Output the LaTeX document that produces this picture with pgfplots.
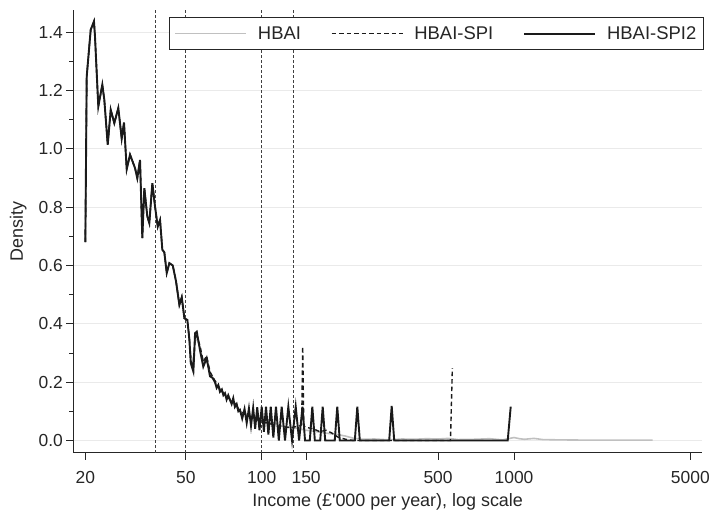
\documentclass[border=0pt]{standalone}
\usepackage{pgfplots}
\pgfplotsset{compat=1.18}
\usepackage{fontspec}
\setmainfont{Liberation Sans}[Ligatures=TeXOff]
\definecolor{gridc}{HTML}{EAEAEA}
\definecolor{hbai}{HTML}{C0C0C0}
\definecolor{spi}{HTML}{1A1A1A}
\definecolor{spitwo}{HTML}{1A1A1A}
\definecolor{axc}{HTML}{262626}
\begin{document}
\begin{tikzpicture}
\path[use as bounding box] (-73.3bp,-57.3bp) rectangle (639.7bp,452.7bp);
\begin{axis}[
  at={(0,0)}, anchor=south west,
  scale only axis, width=628.7bp, height=442.7bp,
  xmode=log, xmin=17.92, xmax=5560, ymin=-0.042, ymax=1.476,
  axis x line*=bottom, axis y line*=left,
  axis line style={axc, line width=0.9bp, -},
  tick align=outside, tick style={axc, line width=0.8bp},
  major tick length=7bp, minor tick length=4bp,
  xtick={20,50,100,150,500,1000,5000},
  xticklabels={20,50,100,150,500,1000,5000},
  xminorticks=false,
  ytick={0,0.2,0.4,0.6,0.8,1.0,1.2,1.4},
  yticklabels={0.0,0.2,0.4,0.6,0.8,1.0,1.2,1.4},
  minor ytick={0.1,0.3,0.5,0.7,0.9,1.1,1.3},
  ymajorgrids, grid style={gridc, line width=1bp},
  /pgf/number format/assume math mode=true,
  tick label style={font=\fontsize{17.5}{20}\selectfont, text=axc},
  xticklabel style={yshift=-8bp},
  xlabel={Income (£'000 per year), log scale},
  ylabel={Density},
  every axis x label/.style={at={(axis description cs:0.5,0)}, anchor=center, yshift=-49bp, font=\fontsize{18}{21}\selectfont, text=axc},
  every axis y label/.style={at={(axis description cs:0,0.5)}, anchor=center, xshift=-55bp, rotate=90, font=\fontsize{18}{21}\selectfont, text=axc},
  legend columns=3,
  legend image code/.code={\draw[#1] (0bp,0bp) -- (71bp,0bp);},
  legend style={at={(rel axis cs:0.1522,0.9842)}, anchor=north west, draw=axc, line width=0.8bp, fill=white,
    font=\fontsize{18.5}{21}\selectfont, text=axc, inner xsep=5bp, inner ysep=7bp,
    /tikz/every odd column/.append style={column sep=9bp},
    /tikz/every even column/.append style={column sep=28bp}},
  legend cell align=left,
]
% vertical reference lines
\addplot[forget plot, black!75, line width=0.8bp, dash pattern=on 3bp off 2bp] coordinates {(37.8,-0.042) (37.8,1.476)};
\addplot[forget plot, black!75, line width=0.8bp, dash pattern=on 3bp off 2bp] coordinates {(50,-0.042) (50,1.476)};
\addplot[forget plot, black!75, line width=0.8bp, dash pattern=on 3bp off 2bp] coordinates {(100,-0.042) (100,1.476)};
\addplot[forget plot, black!75, line width=0.8bp, dash pattern=on 3bp off 2bp] coordinates {(133,-0.042) (133,1.476)};
% HBAI
\addplot[hbai, line width=1.6bp] table {
x y
20.0 0.68
20.25 1.248
21.0 1.408
21.64 1.437
21.84 1.385
22.51 1.145
23.35 1.22
23.78 1.168
24.53 1.014
25.21 1.134
26.05 1.088
27.02 1.14
27.87 1.035
28.46 1.09
29.17 0.93
30.07 0.98
31.47 0.934
32.13 0.899
32.94 0.962
33.64 0.694
34.26 0.865
35.21 0.768
35.86 0.745
36.86 0.882
37.78 0.802
38.73 0.733
39.55 0.756
40.38 0.654
41.12 0.645
42.04 0.574
43.05 0.608
44.41 0.6
45.77 0.545
47.17 0.465
48.21 0.491
49.37 0.419
50.74 0.413
51.68 0.35
52.34 0.29
53.60 0.27
54.44 0.34
55.29 0.35
56.93 0.32
58.67 0.27
60.52 0.275
62.38 0.235
65.28 0.2
68.33 0.175
71.52 0.16
74.85 0.14
78.3 0.12
82 0.1
90 0.085
100 0.075
110 0.06
120 0.05
130 0.045
140 0.04
150 0.035
165 0.03
180 0.025
200 0.02
215 0.015
230 0.008
250 0.004
280 0.005
320 0.002
360 0.005
400 0.004
450 0.006
500 0.005
550 0.007
600 0.003
700 0.004
800 0.006
900 0.002
1000 0.01
1050 0.006
1100 0.004
1200 0.007
1300 0.003
1500 0.002
2000 0.001
3545 0.001
};
\addlegendentry{HBAI}
% HBAI-SPI
\addplot[spi, line width=1.4bp, dash pattern=on 4.5bp off 3bp] table {
x y
20.0 0.68
20.25 1.248
21.0 1.408
21.64 1.437
21.84 1.385
22.51 1.145
23.35 1.22
23.78 1.168
24.53 1.014
25.21 1.134
26.05 1.088
27.02 1.14
27.87 1.035
28.46 1.09
29.17 0.93
30.07 0.98
31.47 0.934
32.13 0.899
32.94 0.962
33.64 0.694
34.26 0.865
35.21 0.768
35.86 0.745
36.86 0.882
37.78 0.802
38.73 0.733
39.55 0.756
40.38 0.654
41.12 0.645
42.04 0.574
43.05 0.608
44.41 0.6
45.77 0.545
47.17 0.465
48.21 0.491
49.37 0.419
50.74 0.413
51.68 0.35
52.34 0.28
53.60 0.25
54.44 0.35
55.29 0.36
56.93 0.325
58.67 0.27
60.52 0.29
62.38 0.235
63.8 0.22
65.28 0.205
67 0.19
69 0.17
71 0.16
73 0.15
75 0.14
77 0.135
79.5 0.12
82 0.1
86 0.09
90 0.08
95 0.072
100 0.065
105 0.06
110 0.055
115 0.05
120 0.048
126 0.045
132 0.045
138 0.048
142 0.05
144 0.055
145.4 0.322
146.8 0.05
150 0.045
160 0.04
170 0.03
180 0.035
190 0.025
200 0.012
215 0.004
230 0.0
560 0.0
569.6 0.248
};
\addlegendentry{HBAI-SPI}
% HBAI-SPI2
\addplot[spitwo, line width=1.9bp] table {
x y
20.0 0.68
20.25 1.248
21.0 1.408
21.64 1.437
21.84 1.385
22.51 1.145
23.35 1.22
23.78 1.168
24.53 1.014
25.21 1.134
26.05 1.088
27.02 1.14
27.87 1.035
28.46 1.09
29.17 0.93
30.07 0.98
31.47 0.934
32.13 0.899
32.94 0.962
33.64 0.694
34.26 0.865
35.21 0.768
35.86 0.745
36.86 0.882
37.78 0.802
38.73 0.733
39.55 0.756
40.38 0.654
41.12 0.645
42.04 0.574
43.05 0.608
44.41 0.6
45.77 0.545
47.17 0.465
48.21 0.491
49.37 0.419
50.74 0.413
51.68 0.345
52.34 0.265
53.60 0.236
54.44 0.368
55.29 0.373
56.93 0.31
58.67 0.253
60.52 0.282
62.38 0.22
63.8 0.215
65.28 0.2
66.3 0.18
67.3 0.19
68.33 0.167
69.5 0.175
70.5 0.155
71.52 0.162
72.6 0.14
73.7 0.155
74.85 0.139
76.0 0.125
77.14 0.145
78.3 0.115
79.58 0.125
80.8 0.1
82.0 0.105
83.7 0.075
85.5 0.108
87.2 0.06
89.0 0.11
90.7 0.05
92.5 0.112
94.2 0.04
96.0 0.114
98.0 0.035
100.0 0.116
102.0 0.03
104.0 0.116
106.3 0.02
108.6 0.116
111.2 0.01
113.9 0.116
116.9 0.0
120.0 0.116
123.7 0.0
127.5 0.116
131.9 0.0
136.4 0.116
140.7 0.0
145.1 0.116
148.5 0.0
155.1 0.0
158.7 0.116
162.4 0.0
170.6 0.0
174.5 0.116
178.5 0.0
194.8 0.0
199.3 0.116
203.9 0.0
233.9 0.0
239.3 0.116
244.8 0.0
320.1 0.0
327.5 0.118
335.1 0.0
944.2 0.0
970.3 0.116
};
\addlegendentry{HBAI-SPI2}
\end{axis}
\end{tikzpicture}
\end{document}
